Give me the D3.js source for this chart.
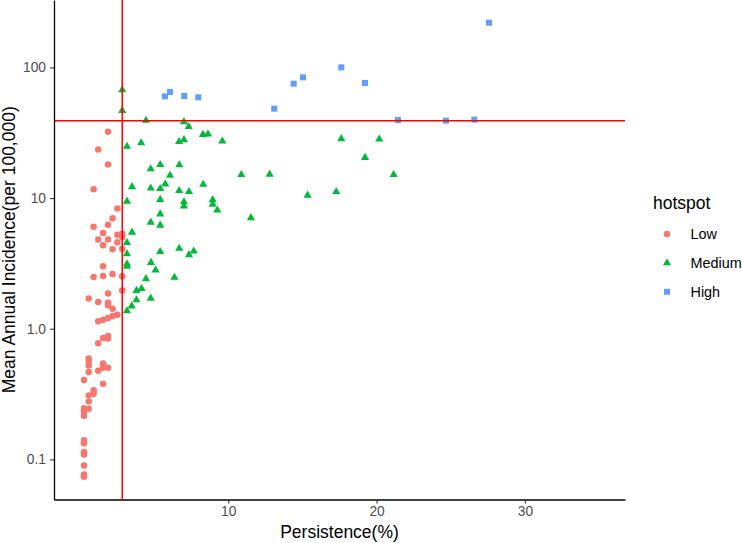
<!DOCTYPE html>
<html>
<head>
<meta charset="utf-8">
<script src="https://cdn.jsdelivr.net/npm/d3@7"></script>
<style>
  body { margin: 0; background: #fff; }
  svg text { font-family: "Liberation Sans", Arial, sans-serif; }
</style>
</head>
<body>
<div class="chartWrap"></div>
<script>
var hotspotLevels = ['Low', 'Medium', 'High'];
var hotspotColors = ['#F8766D', '#00BA38', '#619CFF'];

var lowPersistence = [1.89, 1.23, 1.89, 0.92, 2.52, 2.20, 1.89, 0.92, 1.56, 1.23,
  1.89, 1.56, 2.52, 2.85, 2.52, 2.85, 2.20, 2.85, 1.56, 0.92,
  1.56, 2.20, 2.85, 2.85, 1.89, 0.59, 1.23, 1.89, 1.89, 2.20,
  2.52, 2.20, 1.89, 1.56, 1.23, 1.89, 1.56, 1.89, 1.23, 0.59,
  0.59, 0.59, 0.59, 1.56, 1.23, 1.89, 1.56, 0.27, 1.56, 0.92,
  0.92, 0.59, 0.59, 0.27, 0.59, 0.27, 0.27, 0.27, 0.27, 0.27,
  0.27, 0.27, 0.27, 0.27];
var lowIncidence = [32.2, 23.5, 18.1, 11.7, 8.31, 7.00, 6.24, 6.02, 5.40, 4.82,
  4.82, 4.35, 5.23, 5.32, 4.58, 5.03, 4.06, 4.10, 3.01, 2.49,
  2.53, 2.62, 2.52, 1.96, 1.86, 1.70, 1.60, 1.58, 1.51, 1.42,
  1.28, 1.25, 1.21, 1.17, 1.14, 0.881, 0.850, 0.843, 0.775, 0.591,
  0.560, 0.524, 0.467, 0.541, 0.476, 0.502, 0.502, 0.405, 0.380, 0.338,
  0.318, 0.309, 0.278, 0.246, 0.244, 0.234, 0.216, 0.140, 0.133, 0.114,
  0.109, 0.0897, 0.0767, 0.0736];

var mediumPersistence = [2.85, 2.85, 4.45, 7.01, 7.33, 8.29, 8.63, 9.60, 6.68, 7.01,
  4.13, 3.17, 17.62, 20.18, 19.22, 21.15, 4.77, 5.41, 6.70, 6.07,
  10.88, 12.79, 3.51, 4.77, 5.41, 5.75, 6.69, 7.35, 8.31, 15.35,
  17.28, 3.17, 5.41, 7.01, 7.01, 8.95, 8.95, 9.26, 5.41, 4.77,
  5.41, 11.53, 3.51, 3.17, 3.17, 5.41, 6.69, 7.35, 7.67, 3.17,
  3.17, 4.79, 5.10, 4.45, 6.37, 3.81, 4.15, 3.81, 4.77, 3.49,
  3.17];
var mediumIncidence = [67.2, 46.7, 39.3, 38.3, 35.2, 30.6, 30.8, 27.2, 27.0, 27.9,
  26.4, 24.8, 28.4, 28.2, 20.4, 15.1, 16.7, 18.0, 17.9, 14.9,
  15.1, 15.2, 12.2, 11.9, 11.8, 12.8, 11.4, 11.2, 12.7, 10.5,
  11.2, 9.44, 9.74, 9.35, 8.69, 9.69, 8.95, 8.07, 7.54, 6.52,
  6.19, 7.06, 5.47, 4.55, 3.74, 3.89, 4.12, 3.68, 3.92, 3.13,
  3.00, 3.21, 2.81, 2.41, 2.47, 1.96, 2.03, 1.66, 1.71, 1.49,
  1.37];

var highPersistence = [5.73, 6.07, 7.03, 7.98, 13.10, 14.41, 15.04, 17.62, 19.22, 21.44, 24.68, 26.59, 27.58];
var highIncidence = [60.0, 64.9, 60.4, 59.0, 48.3, 75.0, 83.9, 100, 76.0, 39.6, 39.1, 39.8, 219.7];

var xLimits = [0, 35];
var xTicks = [10, 20, 30];
var yTicks = [0.1, 1, 10, 100];
var yTickLabels = ['0.1', '1.0', '10', '100'];
var persistenceCut = 2.85;
var incidenceCut = 39;

hotspotChart = {

  init: function(){
    self = this;
    self.width = 742;
    self.height = 543;
    self.panel = {left: 54, right: 625, top: 0, bottom: 499.5};
    self.series = [
      {name: hotspotLevels[0], x: lowPersistence, y: lowIncidence, symbol: d3.symbolCircle, size: 33},
      {name: hotspotLevels[1], x: mediumPersistence, y: mediumIncidence, symbol: d3.symbolTriangle, size: 29},
      {name: hotspotLevels[2], x: highPersistence, y: highIncidence, symbol: d3.symbolSquare, size: 36}
    ];
    self.createSvg(self);
  },

  createSvg: function(self){
    self.svg = d3.select('.chartWrap')
      .append('svg')
      .attr('width', self.width)
      .attr('height', self.height);

    self.buildScales(self);
  },

  buildScales: function(self){
    // ggplot style 5% expansion of the limits
    var xPad = (xLimits[1] - xLimits[0]) * 0.05;
    self.x = d3.scaleLinear()
      .domain([xLimits[0] - xPad, xLimits[1] + xPad])
      .range([self.panel.left, self.panel.right]);

    var allY = lowIncidence.concat(mediumIncidence, highIncidence);
    var lo = Math.log10(d3.min(allY)), hi = Math.log10(d3.max(allY));
    var yPad = (hi - lo) * 0.05;
    self.y = d3.scaleLog()
      .domain([Math.pow(10, lo - yPad), Math.pow(10, hi + yPad)])
      .range([self.panel.bottom, self.panel.top]);

    self.drawPoints(self);
    self.drawCuts(self);
    self.drawAxes(self);
    self.drawLegend(self);
  },

  drawPoints: function(self){
    self.series.forEach(function(s, k){
      var pts = s.x.map(function(d, i){ return [d, s.y[i]]; });
      self.svg.append('g')
        .selectAll('path')
        .data(pts)
        .enter()
          .append('path')
          .attr('d', d3.symbol().type(s.symbol).size(s.size))
          .attr('transform', function(d){ return 'translate(' + self.x(d[0]) + ',' + self.y(d[1]) + ')'; })
          .style('fill', hotspotColors[k]);
    });
  },

  drawCuts: function(self){
    self.svg.append('line')
      .attr('x1', self.panel.left).attr('x2', self.panel.right)
      .attr('y1', self.y(incidenceCut)).attr('y2', self.y(incidenceCut))
      .style('stroke', '#FF0000')
      .style('stroke-width', 1.5);

    self.svg.append('line')
      .attr('x1', self.x(persistenceCut)).attr('x2', self.x(persistenceCut))
      .attr('y1', self.panel.top).attr('y2', self.panel.bottom)
      .style('stroke', '#FF0000')
      .style('stroke-width', 1.5);
  },

  drawAxes: function(self){
    var xAxis = self.svg.append('g')
      .attr('transform', 'translate(0,' + self.panel.bottom + ')')
      .call(d3.axisBottom(self.x).tickValues(xTicks).tickSize(4).tickPadding(3).tickSizeOuter(0));

    var yAxis = self.svg.append('g')
      .attr('transform', 'translate(' + self.panel.left + ',0)')
      .call(d3.axisLeft(self.y).tickValues(yTicks).tickSize(4).tickPadding(4).tickSizeOuter(0)
        .tickFormat(function(d, i){ return yTickLabels[i]; }));

    [xAxis, yAxis].forEach(function(a){
      a.select('.domain').style('stroke', '#000').style('stroke-width', 1.3);
      a.selectAll('.tick line').style('stroke', '#333').style('stroke-width', 1.1);
      a.selectAll('.tick text')
        .style('fill', '#4D4D4D')
        .style('font-size', '13.8px')
        .style('font-family', '"Liberation Sans", Arial, sans-serif');
    });

    self.svg.append('text')
      .text('Persistence(%)')
      .attr('x', (self.panel.left + self.panel.right) / 2)
      .attr('y', 538)
      .attr('text-anchor', 'middle')
      .style('font-size', '17.5px')
      .style('fill', '#000');

    self.svg.append('text')
      .text('Mean Annual Incidence(per 100,000)')
      .attr('transform', 'translate(15,' + ((self.panel.top + self.panel.bottom) / 2) + ') rotate(-90)')
      .attr('text-anchor', 'middle')
      .style('font-size', '17.5px')
      .style('fill', '#000');
  },

  drawLegend: function(self){
    var legend = self.svg.append('g').attr('class', 'legend');

    legend.append('text')
      .text('hotspot')
      .attr('x', 653)
      .attr('y', 209)
      .style('font-size', '17.5px')
      .style('fill', '#000');

    var rows = legend.selectAll('.legendRow')
      .data(self.series)
      .enter()
        .append('g')
        .attr('class', 'legendRow')
        .attr('transform', function(d, i){ return 'translate(0,' + (234 + i * 28.9) + ')'; });

    rows.append('path')
      .attr('d', function(d){ return d3.symbol().type(d.symbol).size(d.size)(); })
      .attr('transform', 'translate(667,0)')
      .style('fill', function(d, i){ return hotspotColors[i]; });

    rows.append('text')
      .text(function(d){ return d.name; })
      .attr('x', 690.5)
      .attr('y', 5.2)
      .style('font-size', '14.4px')
      .style('fill', '#000');
  }

};

hotspotChart.init();
</script>
</body>
</html>
